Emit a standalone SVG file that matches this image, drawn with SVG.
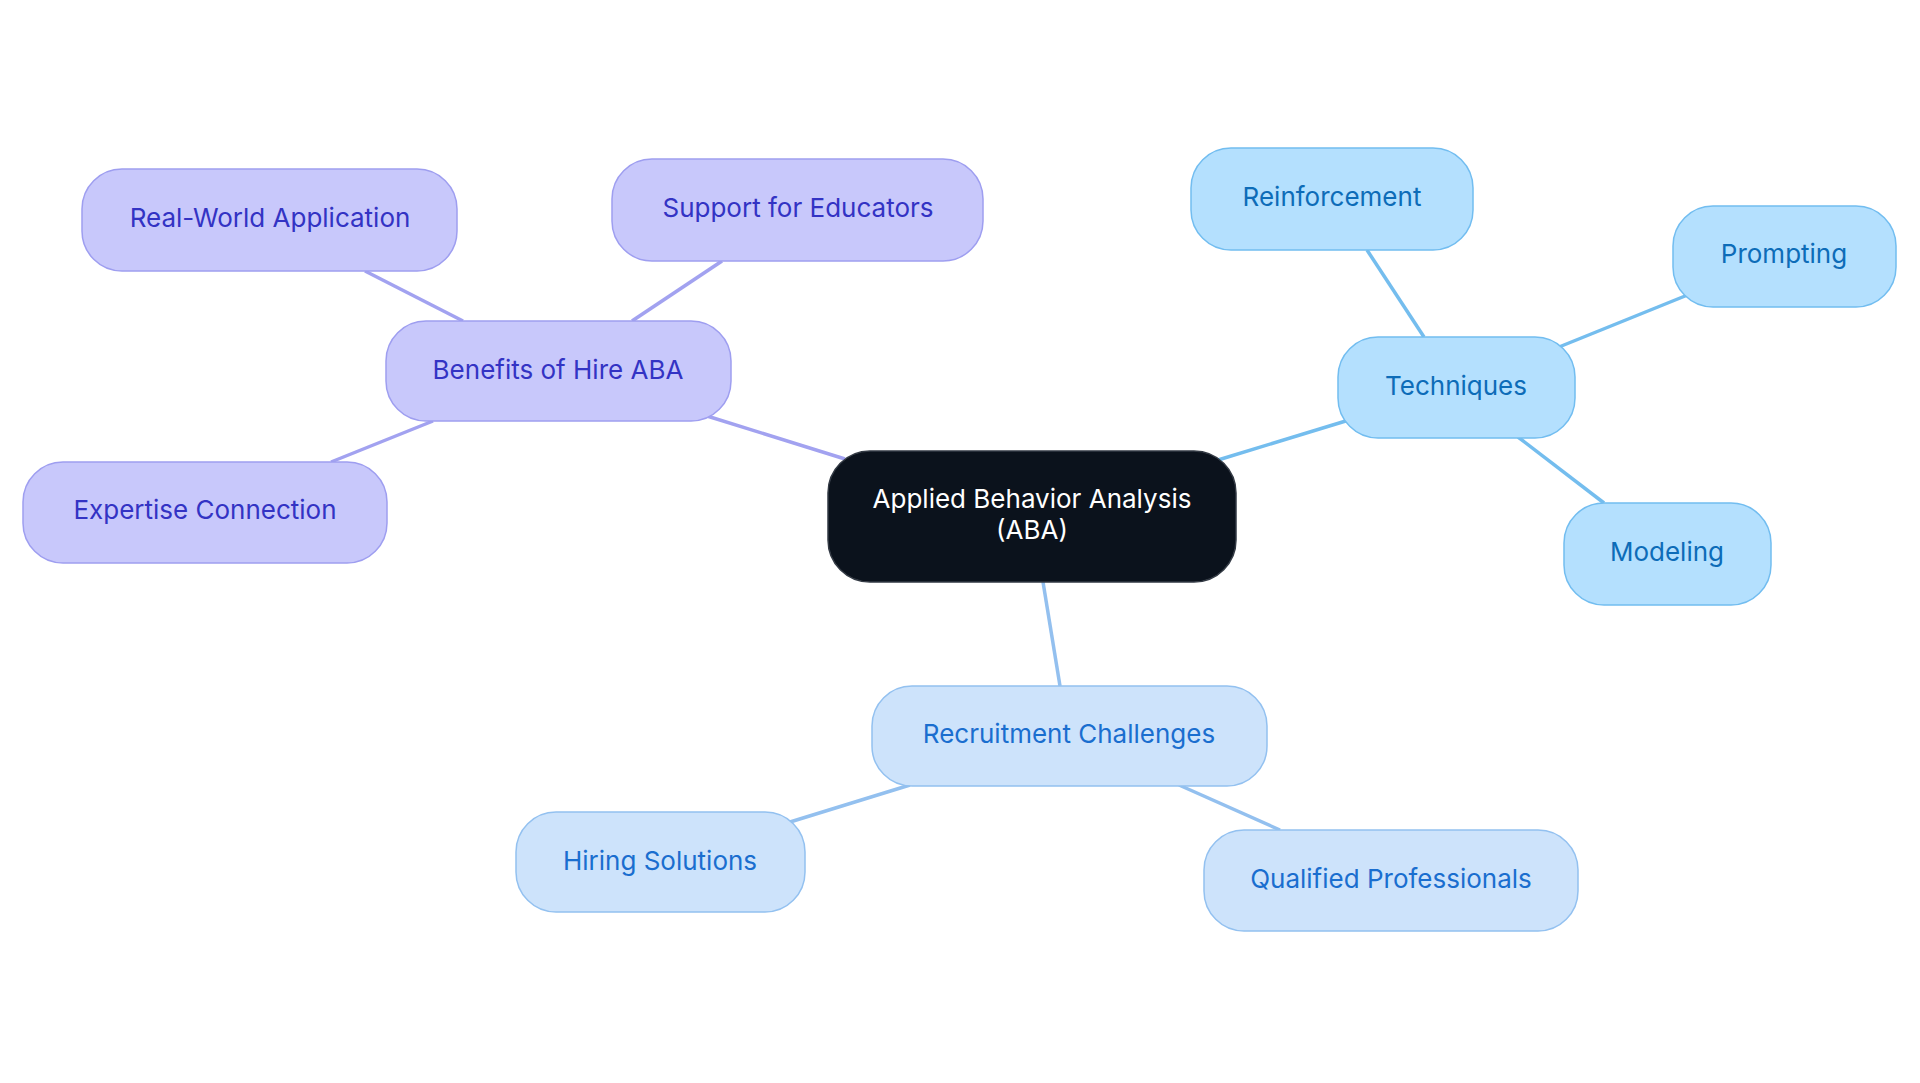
<svg xmlns="http://www.w3.org/2000/svg" width="1920" height="1083" viewBox="0 0 1920 1083">
<style>
text{font-family:Inter,"Noto Sans",sans-serif;font-size:26px;text-anchor:middle;dominant-baseline:central}
.p rect{fill:#c8c8fb;stroke:#9e9ef0;stroke-width:1.5}
.p text{fill:#3333c4}
.t rect{fill:#b4e0fe;stroke:#72bdf0;stroke-width:1.5}
.t text{fill:#0d6cb8}
.r rect{fill:#cde3fb;stroke:#93c1f0;stroke-width:1.5}
.r text{fill:#1a6ecf}
#edges line{stroke-width:3.5}
.ep{stroke:#a2a2f0}.et{stroke:#74bdee}.er{stroke:#93c0ef}
</style>
<rect width="1920" height="1083" fill="#fff"/>
<g id="edges">
<line class="ep" x1="707" y1="416" x2="845" y2="459"/>
<line class="ep" x1="463" y1="321" x2="365" y2="271"/>
<line class="ep" x1="632" y1="321" x2="722" y2="261"/>
<line class="ep" x1="433" y1="421" x2="331" y2="462"/>
<line class="et" x1="1218" y1="460" x2="1349" y2="420"/>
<line class="et" x1="1424" y1="337" x2="1367" y2="250"/>
<line class="et" x1="1559" y1="347" x2="1690" y2="294"/>
<line class="et" x1="1518" y1="437" x2="1604" y2="503"/>
<line class="er" x1="1043" y1="582" x2="1060" y2="686"/>
<line class="er" x1="910" y1="785" x2="790" y2="822"/>
<line class="er" x1="1179" y1="785" x2="1280" y2="830"/>
</g>
<g id="center"><rect x="828" y="451" width="408" height="131" rx="42" fill="#0b121c" stroke="#333a44" stroke-width="1.5"/>
<text x="1032" y="498" fill="#fff">Applied Behavior Analysis</text><text x="1032" y="529" fill="#fff">(ABA)</text></g>
<g id="benefits" class="p"><rect x="386" y="321" width="345" height="100" rx="40"/><text x="558" y="369">Benefits of Hire ABA</text></g>
<g id="realworld" class="p"><rect x="82" y="169" width="375" height="102" rx="40"/><text x="270" y="217">Real-World Application</text></g>
<g id="support" class="p"><rect x="612" y="159" width="371" height="102" rx="40"/><text x="798" y="207">Support for Educators</text></g>
<g id="expertise" class="p"><rect x="23" y="462" width="364" height="101" rx="40"/><text x="205" y="509">Expertise Connection</text></g>
<g id="techniques" class="t"><rect x="1338" y="337" width="237" height="101" rx="40"/><text x="1456" y="385">Techniques</text></g>
<g id="reinforcement" class="t"><rect x="1191" y="148" width="282" height="102" rx="40"/><text x="1332" y="196">Reinforcement</text></g>
<g id="prompting" class="t"><rect x="1673" y="206" width="223" height="101" rx="40"/><text x="1784" y="253">Prompting</text></g>
<g id="modeling" class="t"><rect x="1564" y="503" width="207" height="102" rx="40"/><text x="1667" y="551">Modeling</text></g>
<g id="recruitment" class="r"><rect x="872" y="686" width="395" height="100" rx="40"/><text x="1069" y="733">Recruitment Challenges</text></g>
<g id="hiring" class="r"><rect x="516" y="812" width="289" height="100" rx="40"/><text x="660" y="860">Hiring Solutions</text></g>
<g id="qualified" class="r"><rect x="1204" y="830" width="374" height="101" rx="40"/><text x="1391" y="878">Qualified Professionals</text></g>
</svg>
